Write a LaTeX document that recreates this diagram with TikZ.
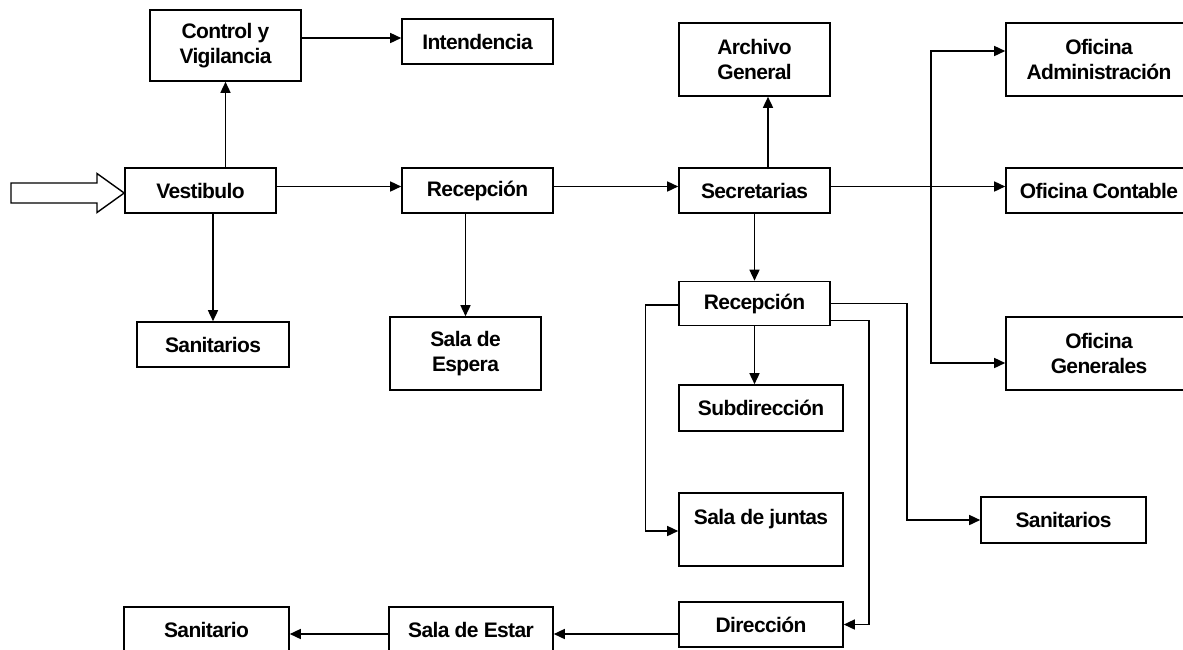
\documentclass[tikz,border=0pt]{standalone}
\usepackage{fontspec}
\setmainfont{Liberation Sans}[LetterSpace=-3]
\usetikzlibrary{arrows.meta,calc}

\tikzset{
  room/.style={draw, line width=1.6pt, inner sep=0pt, align=center,
    font=\bfseries\fontsize{21}{25}\selectfont},
  arr/.style={line width=1.5pt, -{Triangle[length=11pt,width=10pt]}},
  entry/.style={draw, line width=1.4pt, fill=white, line join=miter},
}

\begin{document}
\begin{tikzpicture}[x=1pt,y=-1pt]
  \fill[white] (0,0) rectangle (1183,649);
  \useasboundingbox (0,0) rectangle (1183,649);
  \clip (0,0) rectangle (1183,649);

  % rooms (centre, width, height)
  \node[room, minimum width=151pt, minimum height=71pt] (ctrl)   at (225.5,45.5)  {Control y\\Vigilancia};
  \node[room, minimum width=151pt, minimum height=45pt] (inten)  at (477.5,41.5)  {Intendencia};
  \node[room, minimum width=151pt, minimum height=45pt] (vest)   at (200.5,190.5) {Vestibulo};
  \node[room, minimum width=151pt, minimum height=45pt] (recA)   at (477.5,190.5) {Recepción};
  \node[room, minimum width=151pt, minimum height=45pt] (secr)   at (754.5,190.5) {Secretarias};
  \node[room, minimum width=151pt, minimum height=73pt] (arch)   at (754.5,59.5)  {Archivo\\General};
  \node[room, minimum width=186pt, minimum height=73pt] (ofadm)  at (1099,59.5)   {Oficina\\Administración};
  \node[room, minimum width=186pt, minimum height=45pt] (ofcont) at (1099,190.5)  {Oficina Contable};
  \node[room, minimum width=186pt, minimum height=73pt] (ofgen)  at (1099,353.5)  {Oficina\\Generales};
  \node[room, minimum width=152pt, minimum height=45pt] (sanL)   at (213,344.5)   {Sanitarios};
  \node[room, minimum width=151pt, minimum height=73pt] (espera) at (465.5,353.5) {Sala de\\Espera};
  \node[room, minimum width=151pt, minimum height=44pt] (recB)   at (754.5,303.5) {Recepción};
  \node[room, minimum width=164pt, minimum height=46pt] (subdir) at (761,408)     {Subdirección};
  \node[room, minimum width=164pt, minimum height=73pt] (juntas) at (761,529.5)   {Sala de juntas\\\mbox{}};
  \node[room, minimum width=164pt, minimum height=45pt] (dir)    at (761,624.5)   {Dirección};
  \node[room, minimum width=165pt, minimum height=46pt] (sanR)   at (1063.5,520)  {Sanitarios};
  \node[room, minimum width=164pt, minimum height=45pt] (estar)  at (471,629.5)   {Sala de Estar};
  \node[room, minimum width=165pt, minimum height=45pt] (sanit)  at (206.5,629.5) {Sanitario};

  % entrance arrow
  \draw[entry] (11,183) -- (97,183) -- (97,173.5) -- (vest.west |- 0,193)
    -- (97,212.5) -- (97,203) -- (11,203) -- cycle;

  % ground floor flow
  \draw[arr] (ctrl.south |- vest.north) -- (ctrl.south);
  \draw[arr] ([yshift=7.5pt]ctrl.east) -- ([yshift=7.5pt]ctrl.east -| inten.west);
  \draw[arr] ([yshift=4pt]vest.east) -- ([yshift=4pt]vest.east -| recA.west);
  \draw[arr] (sanL.north |- vest.south) -- (sanL.north);
  \draw[arr] (espera.north |- recA.south) -- (espera.north);
  \draw[arr] ([yshift=4pt]recA.east) -- ([yshift=4pt]recA.east -| secr.west);

  % secretarias and offices
  \draw[arr] ([xshift=13.5pt]secr.north) -- ([xshift=13.5pt]arch.south);
  \draw[arr] ([yshift=4pt]secr.east) -- ([yshift=4pt]secr.east -| ofcont.west);
  \coordinate (branch) at (931,186.5);
  \draw[arr] (branch) |- ([yshift=8.5pt]ofadm.west);
  \draw[arr] (branch) |- ([yshift=-9.5pt]ofgen.west);
  \draw[arr] (secr.south) -- (recB.north);

  % second reception
  \draw[arr] (recB.south) -- (recB.south |- subdir.north);
  \draw[arr] ([yshift=-1.5pt]recB.west) -- ++(-32.5,0) |- ([yshift=-1.5pt]juntas.west);
  \draw[arr] (recB.east) -- ++(76,0) |- (sanR.west);
  \draw[arr] ([yshift=-17pt]recB.east) -- ++(38,0) |- (dir.east);

  % direction wing
  \draw[arr] ([yshift=-9.5pt]dir.west) -- ([yshift=-9.5pt]dir.west -| estar.east);
  \draw[arr] ([yshift=-4.5pt]estar.west) -- ([yshift=-4.5pt]estar.west -| sanit.east);
\end{tikzpicture}
\end{document}
